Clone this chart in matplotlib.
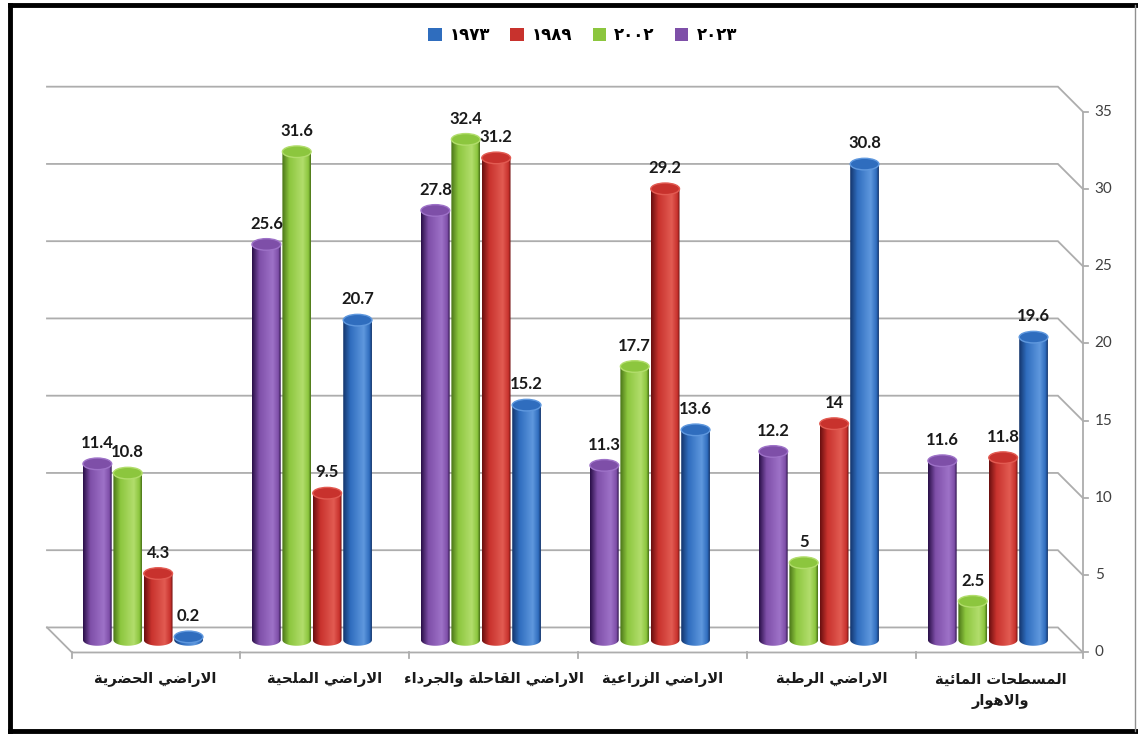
import numpy as np
import matplotlib.pyplot as plt
from matplotlib.patches import Ellipse, Polygon, Patch
from matplotlib.colors import LinearSegmentedColormap
from matplotlib.lines import Line2D

# Arabic glyphs: first presentation form and joining type (U none, R right, D dual)
AR_FORMS = {
    'ء': (0xFE80, 'U'), 'ئ': (0xFE89, 'D'), 'ا': (0xFE8D, 'R'), 'ب': (0xFE8F, 'D'),
    'ة': (0xFE93, 'R'), 'ت': (0xFE95, 'D'), 'ج': (0xFE9D, 'D'), 'ح': (0xFEA1, 'D'),
    'د': (0xFEA9, 'R'), 'ر': (0xFEAD, 'R'), 'ز': (0xFEAF, 'R'), 'س': (0xFEB1, 'D'),
    'ض': (0xFEBD, 'D'), 'ط': (0xFEC1, 'D'), 'ع': (0xFEC9, 'D'), 'ق': (0xFED5, 'D'),
    'ل': (0xFEDD, 'D'), 'م': (0xFEE1, 'D'), 'ه': (0xFEE9, 'D'), 'و': (0xFEED, 'R'),
    'ي': (0xFEF1, 'D'),
}


def jtype(c):
    return AR_FORMS.get(c, (None, 'U'))[1]


def shape_line(s):
    out = []
    i, n = 0, len(s)
    while i < n:
        c = s[i]
        if c not in AR_FORMS:
            out.append(c)
            i += 1
            continue
        prev = s[i - 1] if i > 0 else ''
        nxt = s[i + 1] if i + 1 < n else ''
        joins_prev = jtype(prev) == 'D' and jtype(c) != 'U'
        if c == 'ل' and nxt == 'ا':
            out.append(chr(0xFEFC if joins_prev else 0xFEFB))
            i += 2
            continue
        joins_next = jtype(c) == 'D' and jtype(nxt) != 'U'
        base, t = AR_FORMS[c]
        if t == 'U':
            form = 0
        elif joins_prev and joins_next:
            form = 3
        elif joins_prev:
            form = 1
        elif joins_next:
            form = 2
        else:
            form = 0
        out.append(chr(base + form))
        i += 1
    return ''.join(out)[::-1]


def ar(s):
    return '\n'.join(shape_line(line) for line in s.split('\n'))


categories = ['الاراضي الحضرية', 'الاراضي الملحية', 'الاراضي القاحلة والجرداء',
              'الاراضي الزراعية', 'الاراضي الرطبة', 'المسطحات المائية\nوالاهوار']
years = ['١٩٧٣', '١٩٨٩', '٢٠٠٢', '٢٠٢٣']
v1973 = [0.2, 20.7, 15.2, 13.6, 30.8, 19.6]
v1989 = [4.3, 9.5, 31.2, 29.2, 14, 11.8]
v2002 = [10.8, 31.6, 32.4, 17.7, 5, 2.5]
v2023 = [11.4, 25.6, 27.8, 11.3, 12.2, 11.6]
yticks = [0, 5, 10, 15, 20, 25, 30, 35]

colors = {'1973': '#2F6DBE', '1989': '#C8322D', '2002': '#8CC63E', '2023': '#7E4FA8'}
darks = {'1973': '#14356C', '1989': '#6A1010', '2002': '#4A7418', '2023': '#2A1048'}
lights = {'1973': '#5F98DE', '1989': '#E25B52', '2002': '#B2DD6C', '2023': '#9E72C8'}

# bars left to right inside each group
series = [('2023', v2023, -0.27), ('2002', v2002, -0.09),
          ('1989', v1989, 0.09), ('1973', v1973, 0.27)]

bw = 0.17     # cylinder width
eh = 0.75     # ellipse height of the cylinder caps
DX, DY = 0.074, 0.81   # half of the depth offset (back wall -> front edge)
x_left, x_right = -0.494, 5.488

fig = plt.figure(figsize=(11.38, 7.37), dpi=100)
ax = fig.add_axes([0, 0, 1, 1])
ax.axis('off')

grid_c = '#ADADAD'
# back wall gridlines with their slanted run down to the value axis
for v in yticks:
    ax.plot([x_left - DX, x_right - DX, x_right + DX], [v + DY, v + DY, v - DY],
            color=grid_c, lw=1.3, zorder=1, solid_joinstyle='miter')
    ax.plot([x_right + DX, x_right + DX + 0.03], [v - DY, v - DY], color=grid_c, lw=1.3, zorder=1)
    ax.text(x_right + DX + 0.07, v - DY, str(v), ha='left', va='center',
            fontsize=11, color='#404040', family='Lato')
ax.plot([x_right + DX, x_right + DX], [-DY, yticks[-1] - DY], color=grid_c, lw=1.3, zorder=1)

# floor
ax.plot([x_left - DX, x_left + DX, x_right + DX], [DY, -DY, -DY], color=grid_c, lw=1.3, zorder=1)
for k in range(len(categories) + 1):
    xb = k - 0.5 + DX
    xb = min(max(xb, x_left + DX), x_right + DX)
    ax.plot([xb, xb], [-DY, -DY - 0.35], color=grid_c, lw=1.3, zorder=1)

# cylinders
for key, vals, off in series:
    cmap = LinearSegmentedColormap.from_list(
        key, [(0.0, darks[key]), (0.25, colors[key]), (0.72, lights[key]),
              (0.92, colors[key]), (1.0, darks[key])])
    grad = np.linspace(0, 1, 64).reshape(1, -1)
    for i, v in enumerate(vals):
        xc = i + off
        x0, x1 = xc - bw / 2, xc + bw / 2
        t = np.linspace(np.pi, 2 * np.pi, 40)
        pts = np.column_stack([xc + bw / 2 * np.cos(t), eh / 2 * np.sin(t)])
        pts = np.vstack([pts, [[x1, v], [x0, v]]])
        body = Polygon(pts, closed=True, facecolor='none', edgecolor='none')
        ax.add_patch(body)
        im = ax.imshow(grad, extent=(x0, x1, -eh / 2, v), aspect='auto',
                       cmap=cmap, zorder=3, interpolation='bilinear')
        im.set_clip_path(body)
        ax.add_patch(Ellipse((xc, v), bw, eh, facecolor=colors[key],
                             edgecolor=lights[key], lw=1.0, zorder=4))
        label = f'{v:g}'
        ax.text(xc, v + eh / 2 + 0.45, label, ha='center', va='bottom',
                fontsize=12, fontweight='bold', family='Lato', color='#1a1a1a', zorder=5)

# category labels
for i, cat in enumerate(categories):
    ax.text(i + DX, -DY - 1.25, ar(cat), ha='center', va='top', fontsize=10.5,
            fontweight='bold', family=['DejaVu Sans Condensed', 'DejaVu Sans'],
            color='#1a1a1a', linespacing=1.5)

ax.set_xlim(-0.846, 5.888)
ax.set_ylim(-6.28, 41.42)

# legend
order = ['1973', '1989', '2002', '2023']
handles = [Patch(facecolor=colors[k], edgecolor='none') for k in order]
fig.legend(handles, years, loc='center', bbox_to_anchor=(0.512, 0.952), ncol=4,
           frameon=False, handlelength=0.8, handleheight=0.8, handletextpad=0.5,
           columnspacing=1.2, prop={'family': 'DejaVu Sans', 'weight': 'bold', 'size': 12})

# frame round the figure
for xs, ys in [([0.009, 0.009], [0.008, 0.993]), ([0.009, 0.998], [0.993, 0.993]),
               ([0.009, 0.998], [0.008, 0.008])]:
    fig.add_artist(Line2D(xs, ys, transform=fig.transFigure, color='black', lw=3.5))
fig.add_artist(Line2D([0.997, 0.997], [0.008, 0.993], transform=fig.transFigure,
                      color='#909090', lw=1.0))

plt.savefig('out.png', dpi=100)
